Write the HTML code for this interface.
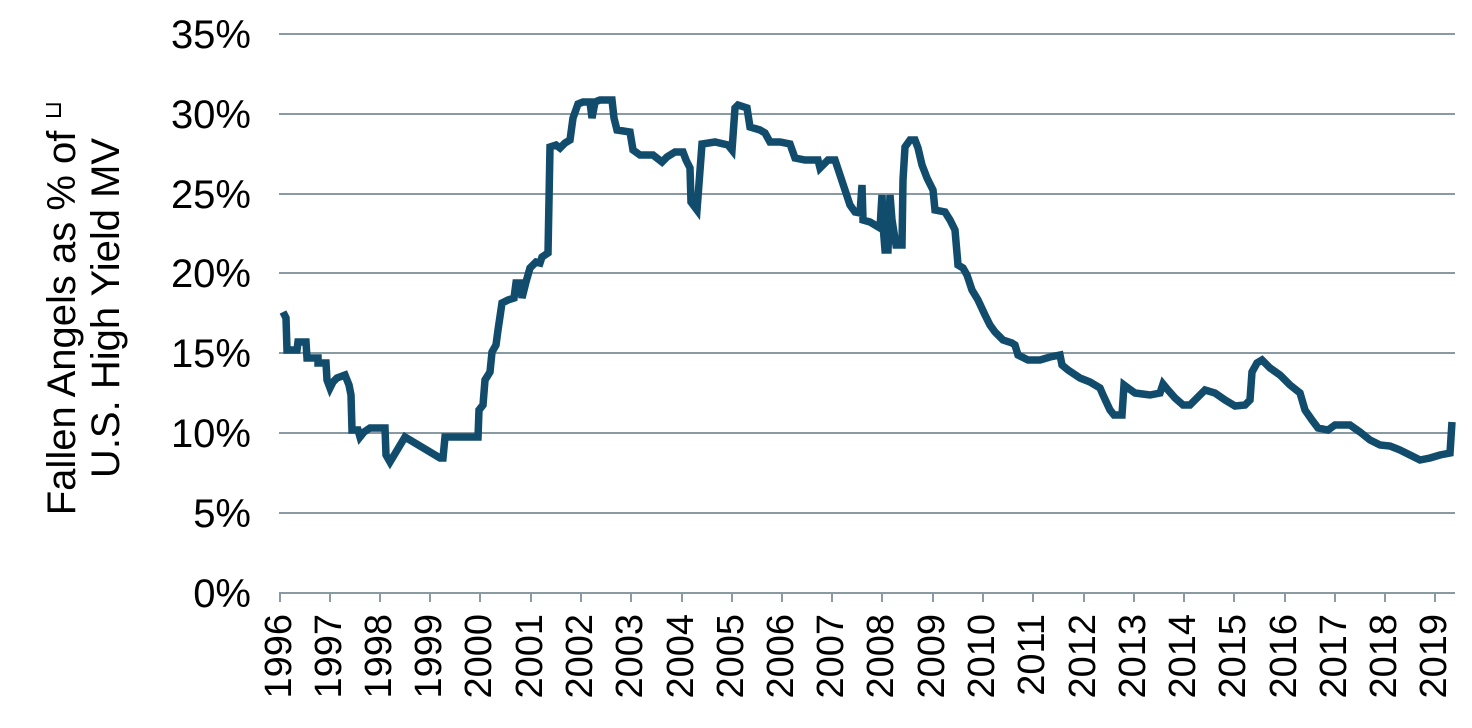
<!DOCTYPE html>
<html><head><meta charset="utf-8"><style>
html,body{margin:0;padding:0;background:#fff;}
svg{display:block;}
text{font-family:"Liberation Sans",Arial,sans-serif;fill:#000;}
</style></head><body>
<svg width="1472" height="728" viewBox="0 0 1472 728">
<g stroke="#8a9aa3" stroke-width="2">
<line x1="279" y1="34" x2="1455" y2="34"/>
<line x1="279" y1="114" x2="1455" y2="114"/>
<line x1="279" y1="194" x2="1455" y2="194"/>
<line x1="279" y1="273" x2="1455" y2="273"/>
<line x1="279" y1="353" x2="1455" y2="353"/>
<line x1="279" y1="433" x2="1455" y2="433"/>
<line x1="279" y1="513" x2="1455" y2="513"/>
<line x1="279" y1="593" x2="1455" y2="593"/>
<g id="ticks">
<line x1="280" y1="593" x2="280" y2="602"/><line x1="330" y1="593" x2="330" y2="602"/><line x1="380" y1="593" x2="380" y2="602"/><line x1="430" y1="593" x2="430" y2="602"/><line x1="480" y1="593" x2="480" y2="602"/><line x1="531" y1="593" x2="531" y2="602"/><line x1="581" y1="593" x2="581" y2="602"/><line x1="631" y1="593" x2="631" y2="602"/><line x1="682" y1="593" x2="682" y2="602"/><line x1="732" y1="593" x2="732" y2="602"/><line x1="782" y1="593" x2="782" y2="602"/><line x1="832" y1="593" x2="832" y2="602"/><line x1="882" y1="593" x2="882" y2="602"/><line x1="933" y1="593" x2="933" y2="602"/><line x1="983" y1="593" x2="983" y2="602"/><line x1="1033" y1="593" x2="1033" y2="602"/><line x1="1084" y1="593" x2="1084" y2="602"/><line x1="1134" y1="593" x2="1134" y2="602"/><line x1="1184" y1="593" x2="1184" y2="602"/><line x1="1234" y1="593" x2="1234" y2="602"/><line x1="1285" y1="593" x2="1285" y2="602"/><line x1="1335" y1="593" x2="1335" y2="602"/><line x1="1385" y1="593" x2="1385" y2="602"/><line x1="1435" y1="593" x2="1435" y2="602"/>
</g></g>
<g font-size="40" text-anchor="end">
<text x="251" y="48">35%</text><text x="251" y="128">30%</text><text x="251" y="208">25%</text><text x="251" y="287">20%</text><text x="251" y="367">15%</text><text x="251" y="447">10%</text><text x="251" y="527">5%</text><text x="251" y="607">0%</text>
</g>
<g font-size="38" text-anchor="end">
<text transform="translate(291,614) rotate(-90)">1996</text>
<text transform="translate(341,614) rotate(-90)">1997</text>
<text transform="translate(391,614) rotate(-90)">1998</text>
<text transform="translate(441,614) rotate(-90)">1999</text>
<text transform="translate(491,614) rotate(-90)">2000</text>
<text transform="translate(542,614) rotate(-90)">2001</text>
<text transform="translate(592,614) rotate(-90)">2002</text>
<text transform="translate(642,614) rotate(-90)">2003</text>
<text transform="translate(693,614) rotate(-90)">2004</text>
<text transform="translate(743,614) rotate(-90)">2005</text>
<text transform="translate(793,614) rotate(-90)">2006</text>
<text transform="translate(843,614) rotate(-90)">2007</text>
<text transform="translate(893,614) rotate(-90)">2008</text>
<text transform="translate(944,614) rotate(-90)">2009</text>
<text transform="translate(994,614) rotate(-90)">2010</text>
<text transform="translate(1044,614) rotate(-90)">2011</text>
<text transform="translate(1095,614) rotate(-90)">2012</text>
<text transform="translate(1145,614) rotate(-90)">2013</text>
<text transform="translate(1195,614) rotate(-90)">2014</text>
<text transform="translate(1245,614) rotate(-90)">2015</text>
<text transform="translate(1296,614) rotate(-90)">2016</text>
<text transform="translate(1346,614) rotate(-90)">2017</text>
<text transform="translate(1396,614) rotate(-90)">2018</text>
<text transform="translate(1446,614) rotate(-90)">2019</text>
</g>
<g font-size="40" text-anchor="middle">
<text transform="translate(75,308) rotate(-90)">Fallen Angels as % of <tspan font-size="24" dy="-14">⊔</tspan></text>
<text transform="translate(119,308) rotate(-90)">U.S. High Yield MV</text>
</g>
<polyline fill="none" stroke="#124c6c" stroke-width="7.5" stroke-linejoin="miter" points="283,312 286,318 287,350 297,350 298,342 306,342 307,358 318,358 318,363 326,363 327,380 330,388 333,382 337,378 345,375 349,385 351,395 352,430 358,430 360,437 364,432 370,428 385,428 386,455 390,462 405,437 440,458 443,458 445,437 475,437 478,437 479,410 483,405 485,380 490,372 492,352 496,345 498,330 502,303 508,300 514,298 516,283 521,283 522,298 526,282 530,268 536,262 540,263 542,257 548,253 550,147 556,145 560,148 565,143 570,140 573,118 578,104 583,102 590,102 592,118 595,102 600,100 612,100 614,118 617,130 630,132 633,150 640,155 653,155 662,162 667,157 675,152 683,152 686,160 690,168 691,202 697,210 702,144 715,142 728,145 732,150 735,108 738,105 747,108 750,127 760,130 765,133 770,142 780,142 790,144 795,158 805,160 818,160 820,168 828,160 835,160 840,175 845,190 850,205 855,212 860,213 862,185 863,220 870,222 875,225 880,228 882,195 883,225 885,250 888,250 890,195 892,220 896,245 902,245 903,180 905,147 910,140 915,140 918,148 922,165 927,178 933,190 935,210 945,212 950,220 955,230 958,265 963,268 967,275 972,290 978,300 985,315 990,325 995,332 1003,340 1012,343 1015,345 1018,355 1028,360 1040,360 1050,357 1060,355 1062,365 1068,370 1080,378 1090,382 1100,388 1103,395 1110,410 1114,415 1122,415 1124,385 1128,388 1135,393 1150,395 1160,393 1163,384 1168,390 1175,398 1183,405 1190,405 1198,397 1205,390 1215,393 1225,400 1235,406 1245,405 1250,400 1252,372 1257,363 1262,360 1270,368 1280,375 1290,385 1300,393 1305,410 1312,420 1318,428 1328,430 1335,425 1350,425 1360,432 1370,440 1380,445 1390,446 1400,450 1410,455 1420,460 1430,458 1440,455 1450,453 1452,422"/>
</svg>
</body></html>
